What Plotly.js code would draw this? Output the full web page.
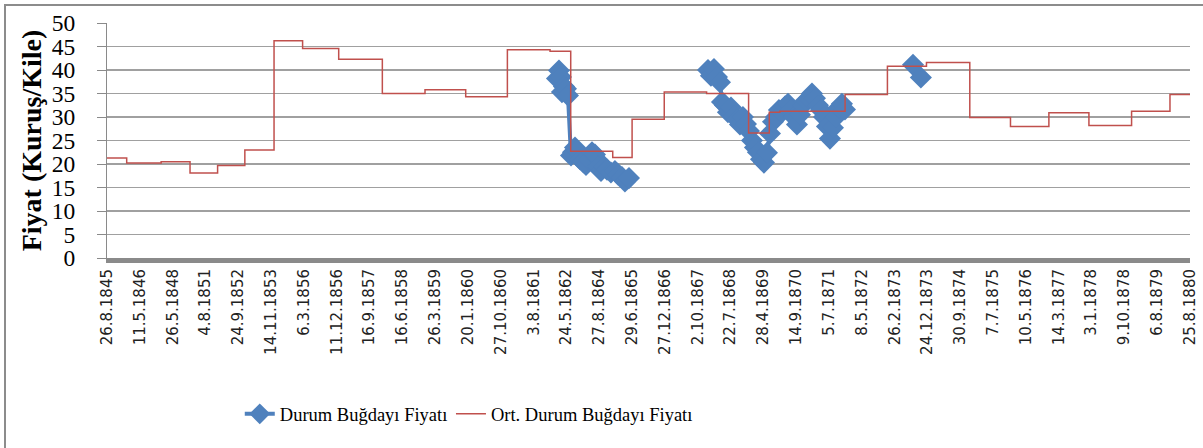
<!DOCTYPE html>
<html>
<head>
<meta charset="utf-8">
<script src="https://cdn.plot.ly/plotly-3.0.1.min.js"></script>
<style>
  html, body { margin: 0; padding: 0; background: #fff; overflow: hidden; }
  #frame { position: absolute; left: 4px; top: 4px; width: 1300px; height: 500px; border: 2px solid #8c8c8c; box-sizing: border-box; }
  #chart { position: absolute; left: 0; top: 0; width: 1203px; height: 448px; }
</style>
</head>
<body>
<div id="frame"></div>
<div id="chart"></div>
<script>
// Category tick labels (dates), evenly spaced along the category axis
const tickLabels = ["26.8.1845","11.5.1846","26.5.1848","4.8.1851","24.9.1852","14.11.1853","6.3.1856","11.12.1856","16.9.1857","16.6.1858","26.3.1859","20.1.1860","27.10.1860","3.8.1861","24.5.1862","27.8.1864","29.6.1865","27.12.1866","2.10.1867","22.7.1868","28.4.1869","14.9.1870","5.7.1871","8.5.1872","26.2.1873","24.12.1873","30.9.1874","7.7.1875","10.5.1876","14.3.1877","3.1.1878","9.10.1878","6.8.1879","25.8.1880"];

// Average (step) series: category position where each level starts, and its value
const avgPos = [0, 0.6, 1.65, 2.53, 3.37, 4.2, 5.09, 5.96, 7.06, 8.39, 9.69, 10.93, 12.2, 13.5, 14.13, 15.41, 16.0, 16.98, 18.27, 19.55, 20.18, 20.5, 22.49, 23.78, 24.97, 26.29, 27.53, 28.7, 29.92, 31.22, 32.39, 33];
const avgVal = [21.3, 20.2, 20.5, 18.1, 19.7, 23.0, 46.2, 44.6, 42.3, 35.0, 35.8, 34.3, 44.3, 44.0, 22.7, 21.4, 29.5, 35.3, 35.0, 26.6, 31.0, 31.2, 34.8, 40.8, 41.6, 29.9, 28.0, 30.9, 28.2, 31.2, 34.8, 34.8];

// Durum wheat price observations (null = no data, breaks the line)
const durumPos = [13.711, 13.772, 13.833, 13.863, 13.924, 13.985, 14.046, 14.138, 14.199, 14.260, 14.321, 14.412, 14.503, 14.595, 14.686, 14.778, 14.869, 14.960, 15.052, 15.143, 15.235, 15.356, 15.478, 15.570, 15.692, 15.783, 15.905, null,
  18.312, 18.403, 18.495, 18.586, 18.678, 18.739, 18.830, 18.921, 19.013, 19.104, 19.196, 19.287, 19.378, 19.470, 19.561, 19.653, 19.744, 19.835, 19.927, 20.018, 20.110, 20.201, 20.293, 20.384, 20.475, 20.567, 20.658, 20.750, 20.841, 20.932, 21.024, 21.115, 21.207, 21.298, 21.389, 21.481, 21.572, 21.664, 21.755, 21.847, 21.938, 22.029, 22.121, 22.212, 22.303, 22.395, 22.486, null,
  24.56, 24.80];
const durumVal = [38.2, 39.9, 38.5, 35.3, 36.5, 36.0, 34.6, 21.8, 22.5, 23.5, 22.8, 21.0, 20.5, 19.8, 21.0, 22.5, 22.0, 19.5, 18.5, 19.5, 18.8, 18.2, 18.5, 17.8, 17.2, 16.3, 17.0, null,
  40.0, 38.8, 40.2, 38.5, 37.4, 33.2, 32.5, 31.0, 32.0, 30.2, 29.5, 28.4, 30.0, 28.5, 27.0, 25.0, 23.5, 22.5, 21.0, 20.3, 22.4, 26.5, 29.0, 30.0, 31.5, 31.0, 32.2, 32.8, 31.5, 30.0, 28.4, 30.5, 32.5, 33.5, 34.0, 35.0, 34.0, 32.5, 31.5, 30.0, 28.0, 25.4, 27.7, 30.0, 32.0, 32.8, 31.6, null,
  41.1, 38.4];

const seriesNames = ["Durum Buğdayı Fiyatı", "Ort. Durum Buğdayı Fiyatı"];
const serif = "'Liberation Serif', 'Times New Roman', serif";

const traces = [
  {
    x: durumPos, y: durumVal, name: seriesNames[0], type: "scatter", mode: "lines+markers",
    connectgaps: false, legend: "legend",
    line: { color: "#4F81BD", width: 4 },
    marker: { symbol: "diamond", size: 17, color: "#4F81BD" }
  },
  {
    x: avgPos, y: avgVal, name: seriesNames[1], type: "scatter", mode: "lines",
    legend: "legend2",
    line: { color: "#C0504D", width: 1.5, shape: "hv" }
  }
];

const legendFont = { family: serif, size: 18.5, color: "#000" };

const layout = {
  width: 1203, height: 448,
  font: { family: serif, color: "#000" },
  margin: { l: 107, r: 13, t: 23, b: 189.5 },
  paper_bgcolor: "rgba(0,0,0,0)", plot_bgcolor: "rgba(0,0,0,0)",
  showlegend: true,
  legend: {
    orientation: "h", x: 0.1226, xanchor: "left", y: -0.665, yanchor: "middle",
    font: legendFont, itemwidth: 30
  },
  legend2: {
    orientation: "h", x: 0.3176, xanchor: "left", y: -0.665, yanchor: "middle",
    font: legendFont, itemwidth: 30
  },
  xaxis: {
    range: [0, 33], tickmode: "array",
    tickvals: tickLabels.map((_, i) => i), ticktext: tickLabels,
    tickangle: -90, ticks: "", showgrid: false, zeroline: false,
    showline: true, linecolor: "#8a8a8a", linewidth: 5,
    tickfont: { family: "'DejaVu Sans', Verdana, sans-serif", size: 15, color: "#222" },
    automargin: false, fixedrange: true
  },
  yaxis: {
    range: [0, 50], dtick: 5, tick0: 0,
    ticks: "outside", ticklen: 9, tickcolor: "#8a8a8a", tickwidth: 1,
    showline: true, linecolor: "#8a8a8a", linewidth: 1,
    showgrid: true, gridcolor: "#a0a0a0", gridwidth: 1.5, zeroline: false,
    tickfont: { family: serif, size: 23.5, color: "#000" },
    ticklabelstandoff: 17, automargin: false,
    title: { text: "Fiyat (Kuruş/Kile)", font: { family: serif, size: 28, color: "#000", weight: "bold" } },
    fixedrange: true
  }
};

Plotly.newPlot("chart", traces, layout, { displayModeBar: false, staticPlot: true });
</script>
</body>
</html>
